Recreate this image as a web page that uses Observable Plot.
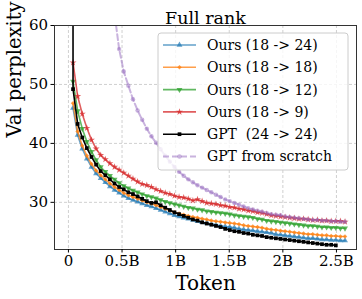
<!DOCTYPE html>
<html><head><meta charset="utf-8">
<script src="https://cdn.jsdelivr.net/npm/d3@7"></script>
<script src="https://cdn.jsdelivr.net/npm/@observablehq/plot@0.6"></script>
<style>body{margin:0;background:#fff}#chart svg{display:block}</style>
</head><body><div id="chart"></div>
<script>
const tokens = [0.043,0.086,0.129,0.172,0.215,0.258,0.301,0.344,0.387,0.43,
0.473,0.516,0.559,0.602,0.645,0.688,0.731,0.774,0.817,0.86,
0.903,0.946,0.989,1.032,1.075,1.118,1.161,1.204,1.247,1.29,
1.333,1.376,1.419,1.462,1.505,1.548,1.591,1.634,1.677,1.72,
1.763,1.806,1.849,1.892,1.935,1.978,2.021,2.064,2.107,2.15,
2.193,2.236,2.279,2.322,2.365,2.408,2.451,2.494,2.537,2.58];

const ours18to24 = [46.0,41.4,39.1,37.4,36.0,34.9,34.1,33.4,32.7,32.1,
31.6,31.1,30.7,30.4,30.1,29.8,29.5,29.3,29.0,28.7,
28.4,28.1,27.8,27.6,27.4,27.2,27.0,26.8,26.6,26.5,
26.3,26.2,26.0,25.9,25.8,25.7,25.5,25.4,25.3,25.2,
25.1,25.0,24.9,24.8,24.6,24.5,24.4,24.3,24.2,24.1,
24.0,23.9,23.9,23.8,23.7,23.7,23.6,23.6,23.5,23.5];

const ours18to18 = [46.8,42.0,39.6,37.9,36.5,35.4,34.6,33.9,33.2,32.6,
32.1,31.6,31.2,30.9,30.6,30.3,30.0,29.8,29.5,29.2,
28.9,28.6,28.3,28.1,27.9,27.7,27.5,27.4,27.2,27.1,
26.9,26.8,26.7,26.6,26.5,26.4,26.3,26.1,26.0,25.9,
25.8,25.7,25.5,25.4,25.3,25.2,25.1,25.0,24.9,24.8,
24.7,24.6,24.6,24.5,24.4,24.4,24.3,24.3,24.2,24.2];

const ours18to12 = [50.5,45.5,42.5,40.3,38.6,37.2,36.0,35.2,34.5,33.9,
33.3,32.8,32.4,32.0,31.7,31.4,31.1,30.9,30.7,30.4,
30.1,29.9,29.7,29.5,29.3,29.1,29.0,28.8,28.7,28.5,
28.4,28.3,28.2,28.1,28.0,27.8,27.7,27.6,27.5,27.4,
27.2,27.1,26.9,26.8,26.7,26.6,26.5,26.4,26.3,26.2,
26.1,26.0,26.0,25.9,25.8,25.8,25.7,25.7,25.6,25.6];

const ours18to9 = [53.7,48.0,45.0,42.6,40.6,39.1,38.0,37.3,36.6,36.0,
35.5,35.0,34.5,34.0,33.5,33.1,32.9,32.6,32.2,31.9,
31.6,31.4,31.1,30.9,30.8,30.6,30.3,30.5,30.2,29.9,
29.8,29.7,29.5,29.4,29.2,29.1,28.9,28.8,28.6,28.5,
28.3,28.2,28.0,27.8,27.7,27.6,27.5,27.4,27.3,27.2,
27.2,27.1,27.0,27.0,26.9,26.9,26.8,26.8,26.8,26.7];

// GPT (24 -> 24): first value is at token 0 (step 0), the rest follow tokens
const gptStartToken = 0;
const gptStartValue = 2000;
const gpt24to24 = [49.2,43.3,41.0,39.2,37.7,36.4,35.3,34.6,33.9,33.2,
32.6,32.2,31.7,31.4,31.0,30.6,30.2,29.9,30.0,29.5,
29.1,28.7,28.3,28.0,27.7,27.4,27.1,26.9,26.6,26.4,
26.2,26.0,25.8,25.5,25.3,25.1,25.0,24.8,24.7,24.5,
24.4,24.3,24.1,24.0,23.9,23.8,23.7,23.6,23.5,23.4,
23.3,23.2,23.1,23.0,22.9,22.8,22.8,22.7];

// GPT from scratch: starts at tokens[6]
const scratchStartIndex = 6;
const gptScratch = [92,80,70,62,
56.0,52.2,49.8,47.5,45.6,44.0,42.5,41.2,40.1,39.0,
37.9,36.9,36.0,35.2,34.5,33.9,33.4,32.9,32.5,32.1,
31.7,31.3,30.9,30.5,30.2,29.9,29.6,29.3,29.0,28.8,
28.6,28.4,28.2,28.0,27.9,27.8,27.6,27.5,27.4,27.3,
27.2,27.1,27.0,27.0,26.9,26.9,26.8,26.8,26.7,26.7];

const xTicks = [0, 0.5, 1, 1.5, 2, 2.5];
const yTicks = [30, 40, 50, 60];
const labels = ["Ours (18 -> 24)","Ours (18 -> 18)","Ours (18 -> 12)","Ours (18 -> 9)","GPT  (24 -> 24)","GPT from scratch"];
const colors = ["#1f77b4","#ff7f0e","#2ca02c","#d62728","#000000","#9467bd"];

const zip = (ts, vs) => vs.map((v, i) => ({token: ts[i], value: v}));
const series = [
  {data: zip(tokens, ours18to24), color: colors[0], symbol: "triangle", rotate: 0, r: 2.2, op: 0.7, sw: 1.6},
  {data: zip(tokens, ours18to18), color: colors[1], symbol: "square", rotate: 45, r: 1.8, op: 0.75, sw: 1.6},
  {data: zip(tokens, ours18to12), color: colors[2], symbol: "triangle", rotate: 180, r: 2.2, op: 0.75, sw: 1.6},
  {data: zip(tokens, ours18to9), color: colors[3], symbol: "star", rotate: 0, r: 2.2, op: 0.75, sw: 1.6},
  {data: zip([gptStartToken, ...tokens], [gptStartValue, ...gpt24to24]), color: colors[4], symbol: "square", rotate: 0, r: 2.1, op: 1, sw: 1.6},
  {data: zip(tokens.slice(scratchStartIndex), gptScratch), color: colors[5], symbol: "circle", rotate: 0, r: 2.2, op: 0.5, sw: 2, dash: "6,3"}
];

const marks = [
  Plot.gridX(xTicks, {stroke: "#b0b0b0", strokeOpacity: 0.6, strokeDasharray: "3,2"}),
  Plot.gridY(yTicks, {stroke: "#b0b0b0", strokeOpacity: 0.6, strokeDasharray: "3,2"}),
];
for (const s of series) {
  marks.push(Plot.line(s.data, {x: "token", y: "value", stroke: s.color, strokeOpacity: s.op, strokeWidth: s.sw, strokeDasharray: s.dash, clip: true}));
  marks.push(Plot.dot(s.data, {x: "token", y: "value", fill: s.color, fillOpacity: s.op, stroke: "none", symbol: s.symbol, r: s.r, rotate: s.rotate, clip: true}));
}
marks.push(
  Plot.frame({stroke: "#333", strokeWidth: 1}),
  Plot.axisX(xTicks, {tickSize: 3.5, tickPadding: 2, fontSize: 15, tickFormat: d => d === 0 ? "0" : d + "B", label: null}),
  Plot.axisY(yTicks, {tickSize: 3.5, tickPadding: 3, fontSize: 15, label: null}),
  Plot.text(["Val perplexity"], {frameAnchor: "left", dx: -40, rotate: -90, fontSize: 19.5}),
  Plot.text(["Token"], {frameAnchor: "bottom", dy: 40, fontSize: 20}),
  Plot.text(["Full rank"], {frameAnchor: "top", lineAnchor: "bottom", dy: -2, fontSize: 17.5})
);

const chart = Plot.plot({
  width: 362, height: 299,
  marginLeft: 54, marginRight: 6, marginTop: 25, marginBottom: 50,
  style: {fontFamily: "DejaVu Serif", color: "#000", background: "#fff", overflow: "visible"},
  x: {domain: [-0.13, 2.687]},
  y: {domain: [22, 60]},
  marks
});
document.getElementById("chart").append(chart);

// Legend
const svg = d3.select(chart);
const lg = svg.append("g").attr("text-anchor", "start");
lg.append("rect").attr("x", 158).attr("y", 33).attr("width", 190).attr("height", 137)
  .attr("rx", 3).attr("fill", "#ffffff").attr("fill-opacity", 0.8)
  .attr("stroke", "#cccccc").attr("stroke-width", 1);
series.forEach((s, k) => {
  const y = 45 + 22.3 * k;
  lg.append("line").attr("x1", 163).attr("x2", 196).attr("y1", y).attr("y2", y)
    .attr("stroke", s.color).attr("stroke-opacity", s.op).attr("stroke-width", s.sw)
    .attr("stroke-dasharray", s.dash || null);
  const sym = {triangle: d3.symbolTriangle, square: d3.symbolSquare, star: d3.symbolStar, circle: d3.symbolCircle}[s.symbol];
  lg.append("path").attr("d", d3.symbol(sym, Math.PI * s.r * s.r)())
    .attr("transform", `translate(179.5,${y}) rotate(${s.rotate})`)
    .attr("fill", s.color).attr("fill-opacity", s.op).attr("stroke", "none");
  lg.append("text").attr("x", 207).attr("y", y).attr("dy", "0.35em").attr("text-anchor", "start")
    .attr("font-size", 14).attr("font-family", "DejaVu Serif").attr("fill", "#000").text(labels[k]);
});
</script>
</body></html>
